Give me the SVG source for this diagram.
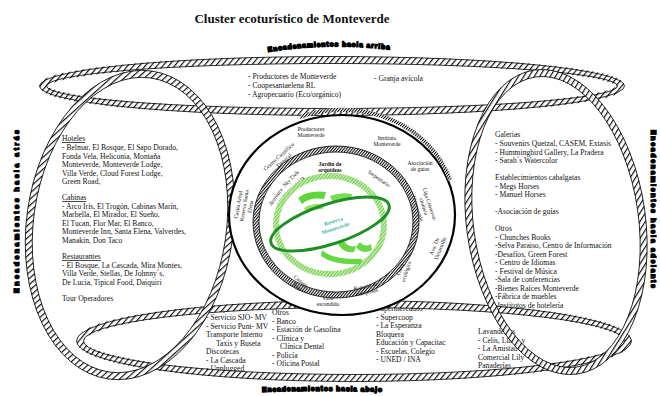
<svg xmlns="http://www.w3.org/2000/svg" width="660" height="396" viewBox="0 0 660 396">
<defs>
<pattern id="h" width="4.5" height="4.5" patternUnits="userSpaceOnUse" patternTransform="rotate(40)">
<rect width="4.5" height="4.5" fill="#fff"/><line x1="0.6" y1="0" x2="0.6" y2="4.5" stroke="#000" stroke-width="1.1"/>
</pattern>
<pattern id="hd" width="2.2" height="2.2" patternUnits="userSpaceOnUse" patternTransform="rotate(40)">
<rect width="2.2" height="2.2" fill="#fff"/><line x1="0.5" y1="0" x2="0.5" y2="2.2" stroke="#000" stroke-width="1"/>
</pattern>
<pattern id="hg" width="2.5" height="2.5" patternUnits="userSpaceOnUse" patternTransform="rotate(40)">
<rect width="2.5" height="2.5" fill="#c8f0b0"/><line x1="0.5" y1="0" x2="0.5" y2="2.5" stroke="#6cc84c" stroke-width="1"/>
</pattern>
<path id="arcTop" d="M268,52 Q330,42 392,50"/>
<path id="arcBot" d="M262,392 Q322,390 384,392"/>
</defs>
<style>
text{font-family:"Liberation Serif","Times New Roman",serif;fill:#111}
.t{font-size:7.6px}
.s{font-size:5.6px}
.u{text-decoration:underline}
.band{fill:none;stroke:url(#h);stroke-width:7}
.ol{fill:none;stroke:#000;stroke-width:0.8}
.lab{font-family:"Liberation Sans",Arial,sans-serif;font-weight:900;font-size:7px;fill:#000;stroke:#000;stroke-width:1.3}
</style>

<text x="292" y="23" text-anchor="middle" style="font-size:13px;font-weight:bold">Cluster ecoturístico de Monteverde</text>

<g id="labels">
<text class="lab"><textPath href="#arcTop" textLength="122">Encadenamientos hacia arriba</textPath></text>
<text class="lab"><textPath href="#arcBot" textLength="120">Encadenamientos hacia abajo</textPath></text>
<text class="lab" transform="translate(19,293) rotate(-90)" textLength="163">Encadenamientos hacia atrás</text>
<text class="lab" transform="translate(651,130) rotate(90)" textLength="158">Encadenamientos hacia adelante</text>
</g>

<g id="left-text" class="t">
<text x="62" y="141" class="u">Hoteles</text>
<text x="62" y="150">- Belmar, El Bosque, El Sapo Dorado,</text>
<text x="62" y="158.5">Fonda Vela, Heliconia, Montaña</text>
<text x="62" y="167">Monteverde, Monteverde Lodge,</text>
<text x="62" y="175.5">Villa Verde, Cloud Forest Lodge,</text>
<text x="62" y="184">Green Road,</text>
<text x="62" y="200" class="u">Cabinas</text>
<text x="62" y="208.5">- Arco Iris, El Trogón, Cabinas Marín,</text>
<text x="62" y="217">Marbella, El Mirador, El Sueño,</text>
<text x="62" y="225.5">El Tucan, Flor Mar, El Banco,</text>
<text x="62" y="234">Monteverde Inn, Santa Elena, Valverdes,</text>
<text x="62" y="242.5">Manakin, Don Taco</text>
<text x="62" y="259" class="u">Restaurantes</text>
<text x="62" y="267.5">- El Bosque, La Cascada, Mira Montes,</text>
<text x="62" y="276">Villa Verde, Stellas, De Johnny´s,</text>
<text x="62" y="284.5">De Lucia, Tipical Food, Daiquiri</text>
<text x="62" y="301">Tour Operadores</text>
</g>

<g id="top-text" class="t">
<text x="248" y="79">- Productores de Monteverde</text>
<text x="248" y="88">- Coopesantaelena RL</text>
<text x="248" y="97">- Agropecuario (Eco/orgánico)</text>
<text x="374" y="81">- Granja avícola</text>
</g>

<g id="right-text" class="t">
<text x="495" y="137">Galerias</text>
<text x="495" y="146">- Souvenirs Quetzal, CASEM, Extasis</text>
<text x="495" y="154.5">- Hummingbird Gallery, La Pradera</text>
<text x="495" y="163">- Sarah´s Watercolor</text>
<text x="495" y="180">Establecimientos cabalgatas</text>
<text x="495" y="188.5">- Megs Horses</text>
<text x="495" y="197">- Manuel Horses</text>
<text x="495" y="214">-Asociación de guías</text>
<text x="495" y="231">Otros</text>
<text x="495" y="239.5">- Chunches Books</text>
<text x="495" y="248">-Selva Paraiso, Centro de Información</text>
<text x="495" y="256.5">-Desafíos, Green Forest</text>
<text x="495" y="265">- Centro de Idiomas</text>
<text x="495" y="273.5">- Festival de Música</text>
<text x="495" y="282">-Sala de conferencias</text>
<text x="495" y="290.5">-Bienes Raíces Monteverde</text>
<text x="495" y="299">-Fábrica de muebles</text>
<text x="495" y="307.5">-Institutos de hotelería</text>
</g>

<g id="bottom-text" class="t">
<text x="206" y="311">Transporte</text>
<text x="206" y="320">- Servicio SJO- MV</text>
<text x="206" y="328.5">- Servicio Punt- MV</text>
<text x="206" y="337">Transporte Interno</text>
<text x="216" y="345.5">Taxis y Buseta</text>
<text x="206" y="354">Discotecas</text>
<text x="206" y="362.5">- La Cascada</text>
<text x="206" y="371">- Unplugged</text>
<text x="272" y="315">Otros</text>
<text x="272" y="323.5">- Banco</text>
<text x="272" y="332">- Estación de Gasolina</text>
<text x="272" y="340.5">- Clínica y</text>
<text x="280" y="349">Clínica Dental</text>
<text x="272" y="357.5">- Policía</text>
<text x="272" y="366">- Oficina Postal</text>
<text x="376" y="311">Supermercados</text>
<text x="376" y="319.5">- Supercoop</text>
<text x="376" y="328">- La Esperanza</text>
<text x="376" y="336.5">Bloquera</text>
<text x="376" y="345">Educación y Capacitac</text>
<text x="376" y="353.5">- Escuelas, Colegio</text>
<text x="376" y="362">- UNED / INA</text>
<text x="478" y="334">Lavanderías</text>
<text x="478" y="342.5">- Celis, Llano y</text>
<text x="478" y="351">- La Amistad</text>
<text x="478" y="359.5">Comercial Lily</text>
<text x="478" y="368">Panaderías</text>
</g>

<g id="frame-bands">
<g id="top-ellipse">
<ellipse class="band" cx="332" cy="86" rx="289" ry="26"/>
<ellipse class="ol" cx="332" cy="86" rx="292.5" ry="29.5"/>
<ellipse class="ol" cx="332" cy="86" rx="285.5" ry="22.5"/>
</g>
<g id="bottom-ellipse">
<ellipse class="band" cx="354" cy="341" rx="274" ry="37"/>
<ellipse class="ol" cx="354" cy="341" rx="277.5" ry="40.5"/>
<ellipse class="ol" cx="354" cy="341" rx="270.5" ry="33.5"/>
</g>
<g id="left-ellipse" transform="rotate(8 130 225)">
<ellipse class="band" cx="130" cy="225" rx="100" ry="152"/>
<ellipse class="ol" cx="130" cy="225" rx="103.5" ry="155.5"/>
<ellipse class="ol" cx="130" cy="225" rx="96.5" ry="148.5"/>
</g>
<g id="right-ellipse" transform="rotate(-8 556 222)">
<ellipse class="band" cx="556" cy="222" rx="86" ry="150"/>
<ellipse class="ol" cx="556" cy="222" rx="89.5" ry="153.5"/>
<ellipse class="ol" cx="556" cy="222" rx="82.5" ry="146.5"/>
</g>
</g>

<g id="core">
<g id="outer-ring">
<ellipse cx="342" cy="215" rx="113" ry="100" fill="#fff" stroke="#000" stroke-width="2.2"/>
<path d="M300,117 A113,100 0 0 1 450,180" fill="none" stroke="url(#hd)" stroke-width="4"/>
</g>
<g id="outer-ring-labels" class="s">
<text x="311" y="131" text-anchor="middle">Productores</text>
<text x="311" y="137" text-anchor="middle">Monteverde</text>
<text x="387" y="140" text-anchor="middle">Instituto</text>
<text x="387" y="146" text-anchor="middle">Monteverde</text>
<text transform="translate(280,158) rotate(-42)" text-anchor="middle">Centro Científico</text>
<text transform="translate(285,162) rotate(-42)" text-anchor="middle">Tropical</text>
<text transform="translate(240,205) rotate(-80)" text-anchor="middle">Casita Arbol</text>
<text transform="translate(246,206) rotate(-80)" text-anchor="middle">Reserva Santa</text>
<text transform="translate(252,207) rotate(-80)" text-anchor="middle">Elena</text>
<text x="420" y="165" text-anchor="middle">Asociación</text>
<text x="420" y="171" text-anchor="middle">de guías</text>
<text transform="translate(428,205) rotate(72)" text-anchor="middle">Liga Conserva-</text>
<text transform="translate(422,207) rotate(72)" text-anchor="middle">cionista</text>
<text transform="translate(416,209) rotate(72)" text-anchor="middle">Monteverde</text>
<text transform="translate(436,247) rotate(-68)" text-anchor="middle">Aso. De</text>
<text transform="translate(442,249) rotate(-68)" text-anchor="middle">Desarrollo</text>
<text x="328" y="300" text-anchor="middle">Valle</text>
<text x="328" y="306" text-anchor="middle">escondido</text>
</g>
<g id="second-ring">
<ellipse cx="336" cy="222" rx="80" ry="73" fill="#fff" stroke="url(#hd)" stroke-width="6"/>
<ellipse class="ol" cx="336" cy="222" rx="83" ry="76"/>
<ellipse class="ol" cx="336" cy="222" rx="77" ry="70"/>
</g>
<g id="second-ring-labels" class="s">
<text transform="translate(292,180) rotate(-45)" text-anchor="middle">Sky Trek</text>
<text transform="translate(298,186) rotate(-45)" text-anchor="middle">Sky Walk</text>
<text transform="translate(277,198) rotate(-55)" text-anchor="middle">Aventura</text>
<text transform="translate(283,202) rotate(-55)" text-anchor="middle">Aérea</text>
<text x="330" y="166" text-anchor="middle" style="font-weight:bold">Jardín de</text>
<text x="330" y="172" text-anchor="middle" style="font-weight:bold">orquídeas</text>
<text transform="translate(378,180) rotate(35)" text-anchor="middle">Serpentario</text>
<text transform="translate(300,283) rotate(40)" text-anchor="middle">Canopy</text>
<text transform="translate(296,288) rotate(40)" text-anchor="middle">Tour</text>
<text transform="translate(402,270) rotate(-72)" text-anchor="middle">Finca</text>
<text transform="translate(408,272) rotate(-72)" text-anchor="middle">ecológica</text>
<text transform="translate(366,288) rotate(-12)" text-anchor="middle">Ranario de</text>
<text transform="translate(367,294) rotate(-12)" text-anchor="middle">mariposas</text>
</g>
<g id="green-core">
<ellipse cx="330" cy="225" rx="54" ry="49" fill="none" stroke="url(#hg)" stroke-width="6"/>
<path d="M298,198 q10,-8 28,-6 l-2,7 q-14,-2 -22,5z" fill="#5fd63a"/>
<path d="M304,208 q8,-5 20,-4 l-1,5 q-10,0 -17,3z" fill="#8fe36a"/>
<path d="M330,196 q10,-4 22,-2 l-1,6 q-10,-2 -19,1z" fill="#77dd55"/>
<path d="M338,244 q6,10 16,8 l2,-6 q-8,2 -12,-5z M356,247 q6,8 16,3 l-1,-6 q-6,4 -11,-2z M322,250 q10,10 40,9 l-1,5 q-26,2 -40,-8z" fill="#66d844"/>
<ellipse cx="330" cy="224" rx="62" ry="20" fill="none" stroke="#1f8f25" stroke-width="3" transform="rotate(-18 330 224)"/>
<text transform="translate(334,223) rotate(-18)" text-anchor="middle" class="s" style="fill:#35b79b;font-weight:bold">Reserva</text>
<text transform="translate(336,230) rotate(-18)" text-anchor="middle" class="s" style="fill:#35b79b;font-weight:bold">Monteverde</text>
</g>
</g>
</svg>
